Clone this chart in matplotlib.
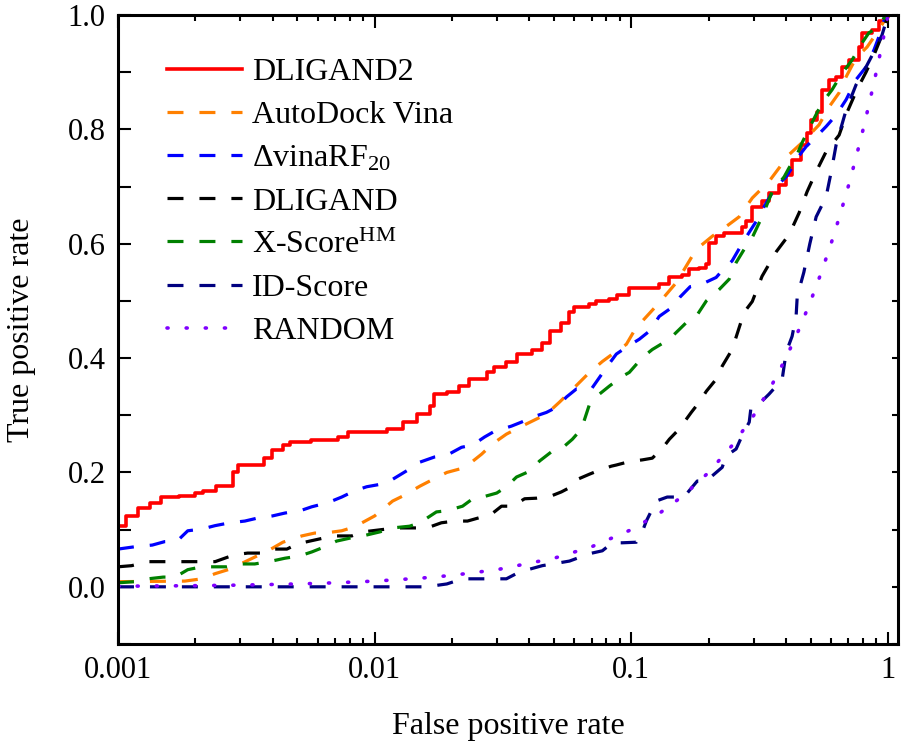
import matplotlib
matplotlib.use("Agg")
import matplotlib.pyplot as plt
from matplotlib.ticker import MultipleLocator, FixedLocator, FuncFormatter, LogLocator, NullFormatter

plt.rcParams['font.family'] = ['Liberation Serif', 'DejaVu Serif']
plt.rcParams['mathtext.fontset'] = 'custom'
plt.rcParams['mathtext.rm'] = 'Liberation Serif'
plt.rcParams['mathtext.it'] = 'Liberation Serif'

# ROC curves (false positive rate, true positive rate)
dligand2_fpr = [0.001, 0.00107, 0.0012, 0.00133, 0.00147, 0.00173, 0.002, 0.00214, 0.0024, 0.0028,
                0.00293, 0.0037, 0.00397, 0.00439, 0.00467, 0.00564, 0.00718, 0.00785, 0.0112, 0.0129,
                0.0146, 0.0164, 0.0171, 0.0191, 0.0214, 0.0234, 0.0273, 0.0293, 0.0326, 0.0357,
                0.0412, 0.0447, 0.048, 0.0534, 0.0574, 0.06, 0.0687, 0.0731, 0.0821, 0.0882,
                0.0982, 0.1285, 0.1406, 0.158, 0.168, 0.184, 0.196, 0.201, 0.214, 0.230,
                0.270, 0.280, 0.296, 0.323, 0.344, 0.377, 0.401, 0.423, 0.459, 0.484,
                0.501, 0.529, 0.553, 0.589, 0.628, 0.662, 0.705, 0.771, 0.792, 0.866,
                0.922, 0.982, 1.0]
dligand2_tpr = [0.106, 0.124, 0.138, 0.147, 0.157, 0.159, 0.164, 0.168, 0.176, 0.200,
                0.213, 0.225, 0.239, 0.248, 0.253, 0.257, 0.262, 0.270, 0.276, 0.288,
                0.302, 0.316, 0.337, 0.340, 0.351, 0.363, 0.375, 0.384, 0.394, 0.407,
                0.415, 0.427, 0.447, 0.462, 0.480, 0.489, 0.494, 0.500, 0.503, 0.511,
                0.523, 0.529, 0.541, 0.546, 0.555, 0.558, 0.564, 0.602, 0.613, 0.619,
                0.630, 0.639, 0.665, 0.674, 0.689, 0.703, 0.721, 0.747, 0.773, 0.794,
                0.817, 0.830, 0.869, 0.887, 0.892, 0.909, 0.921, 0.944, 0.969, 0.974,
                0.990, 0.997, 1.0]

vina_fpr = [0.001, 0.00182, 0.00212, 0.00239, 0.00273, 0.00341, 0.00384, 0.00439, 0.0052, 0.00584,
            0.00639, 0.00744, 0.00836, 0.01, 0.01175, 0.0129, 0.015, 0.0164, 0.0191, 0.0214,
            0.0234, 0.0261, 0.0288, 0.0326, 0.0367, 0.0412, 0.0467, 0.0525, 0.0574, 0.0617,
            0.0687, 0.0771, 0.0874, 0.0956, 0.104, 0.1285, 0.1497, 0.179, 0.2066, 0.234,
            0.263, 0.296, 0.344, 0.412, 0.463, 0.539, 0.589, 0.645, 0.687, 0.751,
            0.829, 0.922, 0.982, 1.0]
vina_tpr = [0.009, 0.010, 0.014, 0.023, 0.031, 0.052, 0.063, 0.078, 0.089, 0.094,
            0.094, 0.098, 0.105, 0.124, 0.150, 0.159, 0.176, 0.185, 0.200, 0.206,
            0.215, 0.232, 0.250, 0.267, 0.279, 0.290, 0.302, 0.323, 0.340, 0.354,
            0.375, 0.394, 0.412, 0.424, 0.452, 0.497, 0.532, 0.590, 0.613, 0.630,
            0.647, 0.680, 0.709, 0.756, 0.777, 0.808, 0.839, 0.864, 0.892, 0.925,
            0.944, 0.974, 0.995, 1.0]

vinarf_fpr = [0.001, 0.00116, 0.00136, 0.00152, 0.0017, 0.00187, 0.00212, 0.00239, 0.00273, 0.00312,
              0.00348, 0.004, 0.00447, 0.0052, 0.00569, 0.00656, 0.00744, 0.00836, 0.00931, 0.01074,
              0.01175, 0.01368, 0.015, 0.0171, 0.0191, 0.0218, 0.0241, 0.0268, 0.0293, 0.0341,
              0.0373, 0.042, 0.0467, 0.0511, 0.0559, 0.0611, 0.0699, 0.0751, 0.0807, 0.0874,
              0.0956, 0.1074, 0.1175, 0.1285, 0.1444, 0.155, 0.1696, 0.1855, 0.214, 0.226,
              0.247, 0.270, 0.288, 0.3065, 0.32, 0.344, 0.367, 0.401, 0.423, 0.4385,
              0.48, 0.525, 0.574, 0.628, 0.687, 0.751, 0.821, 0.882, 0.922, 0.964, 1.0]
vinarf_tpr = [0.066, 0.070, 0.073, 0.079, 0.080, 0.098, 0.101, 0.107, 0.112, 0.115,
              0.120, 0.124, 0.129, 0.134, 0.140, 0.147, 0.157, 0.168, 0.175, 0.180,
              0.188, 0.206, 0.218, 0.227, 0.230, 0.244, 0.248, 0.262, 0.272, 0.281,
              0.288, 0.298, 0.305, 0.314, 0.332, 0.346, 0.346, 0.366, 0.386, 0.407,
              0.419, 0.433, 0.447, 0.473, 0.489, 0.507, 0.525, 0.528, 0.541, 0.553,
              0.570, 0.600, 0.620, 0.639, 0.655, 0.680, 0.700, 0.717, 0.733, 0.747,
              0.770, 0.787, 0.805, 0.825, 0.852, 0.887, 0.909, 0.939, 0.962, 0.990, 1.0]

dligand_fpr = [0.001, 0.00113, 0.00131, 0.00239, 0.00268, 0.00285, 0.0032, 0.00363, 0.004, 0.00455,
               0.0050, 0.00559, 0.00628, 0.00697, 0.00814, 0.00898, 0.0111, 0.0125, 0.0147, 0.0167,
               0.0182, 0.0205, 0.0230, 0.0261, 0.0285, 0.0312, 0.0344, 0.0384, 0.0427, 0.0488,
               0.0534, 0.0589, 0.0617, 0.0687, 0.0751, 0.0836, 0.0874, 0.0982, 0.1104, 0.1207,
               0.132, 0.1406, 0.1537, 0.1712, 0.184, 0.196, 0.214, 0.226, 0.247, 0.275,
               0.296, 0.323, 0.367, 0.412, 0.4505, 0.484, 0.525, 0.574, 0.645, 0.693,
               0.758, 0.821, 0.882, 0.948, 1.0]
dligand_tpr = [0.035, 0.037, 0.044, 0.044, 0.052, 0.056, 0.059, 0.059, 0.066, 0.066,
               0.075, 0.080, 0.085, 0.089, 0.089, 0.096, 0.101, 0.103, 0.103, 0.106,
               0.112, 0.115, 0.115, 0.122, 0.127, 0.141, 0.141, 0.154, 0.155, 0.159,
               0.166, 0.176, 0.188, 0.197, 0.204, 0.211, 0.213, 0.219, 0.222, 0.225,
               0.242, 0.258, 0.276, 0.305, 0.323, 0.342, 0.363, 0.386, 0.415, 0.480,
               0.499, 0.543, 0.586, 0.616, 0.654, 0.691, 0.726, 0.761, 0.790, 0.830,
               0.870, 0.900, 0.930, 0.965, 1.0]

xscore_fpr = [0.001, 0.00116, 0.00131, 0.0015, 0.00167, 0.00187, 0.00212, 0.00266, 0.00304, 0.00341,
              0.00397, 0.00447, 0.0051, 0.00569, 0.00639, 0.00711, 0.00836, 0.00898, 0.01046, 0.01175,
              0.01368, 0.015, 0.0174, 0.0191, 0.022, 0.0241, 0.0263, 0.0299, 0.0326, 0.0357,
              0.0401, 0.0439, 0.0488, 0.0539, 0.0589, 0.0639, 0.0687, 0.0751, 0.0821, 0.0922,
              0.0982, 0.1104, 0.1207, 0.1406, 0.1637, 0.179, 0.196, 0.22, 0.2406, 0.256,
              0.275, 0.296, 0.323, 0.3538, 0.394, 0.412, 0.4385, 0.463, 0.506, 0.553,
              0.605, 0.662, 0.724, 0.792, 0.843, 0.922, 0.964, 1.0]
xscore_tpr = [0.007, 0.009, 0.014, 0.017, 0.017, 0.030, 0.035, 0.035, 0.040, 0.040,
              0.045, 0.050, 0.054, 0.061, 0.070, 0.080, 0.087, 0.089, 0.096, 0.103,
              0.106, 0.112, 0.131, 0.133, 0.141, 0.154, 0.157, 0.164, 0.175, 0.192,
              0.202, 0.220, 0.236, 0.243, 0.258, 0.276, 0.319, 0.337, 0.351, 0.368,
              0.375, 0.401, 0.415, 0.433, 0.462, 0.473, 0.500, 0.520, 0.538, 0.567,
              0.590, 0.611, 0.647, 0.691, 0.717, 0.733, 0.752, 0.777, 0.812, 0.846,
              0.869, 0.898, 0.921, 0.951, 0.969, 0.979, 0.995, 1.0]

idscore_fpr = [0.001, 0.0159, 0.0191, 0.022, 0.0326, 0.0367, 0.045, 0.0574, 0.0687, 0.0771,
               0.0843, 0.0922, 0.1046, 0.1094, 0.1144, 0.125, 0.138, 0.1606, 0.168, 0.1807,
               0.196, 0.2066, 0.226, 0.234, 0.256, 0.270, 0.288, 0.293, 0.32, 0.344,
               0.367, 0.387, 0.401, 0.423, 0.4385, 0.443, 0.47, 0.496, 0.525, 0.574,
               0.601, 0.628, 0.687, 0.751, 0.821, 0.89, 0.948, 1.0]
idscore_tpr = [0.0, 0.0, 0.005, 0.014, 0.014, 0.026, 0.037, 0.045, 0.058, 0.063,
               0.077, 0.077, 0.078, 0.092, 0.115, 0.150, 0.157, 0.157, 0.168, 0.185,
               0.185, 0.194, 0.209, 0.229, 0.241, 0.264, 0.288, 0.316, 0.323, 0.337,
               0.351, 0.363, 0.410, 0.438, 0.473, 0.508, 0.550, 0.600, 0.647, 0.682,
               0.726, 0.773, 0.834, 0.878, 0.909, 0.939, 0.965, 1.0]

random_fpr = [0.001, 0.002, 0.003, 0.005, 0.007, 0.01, 0.015, 0.02, 0.03, 0.05, 0.07, 0.1, 0.13,
              0.16, 0.2, 0.25, 0.3, 0.35, 0.4, 0.45, 0.5, 0.55, 0.6, 0.65, 0.7, 0.75, 0.8,
              0.85, 0.9, 0.95, 1.0]
random_tpr = [0.001, 0.002, 0.003, 0.005, 0.007, 0.01, 0.015, 0.02, 0.03, 0.05, 0.07, 0.1, 0.13,
              0.16, 0.2, 0.25, 0.3, 0.35, 0.4, 0.45, 0.5, 0.55, 0.6, 0.65, 0.7, 0.75, 0.8,
              0.85, 0.9, 0.95, 1.0]

x_ticks = [0.001, 0.01, 0.1, 1]

fig = plt.figure(figsize=(9.04, 7.48), dpi=100)
ax = fig.add_axes([118 / 904, 1 - 644 / 748, 780 / 904, 629 / 748])

lw = 2.3
dash = (5.0, 5.0)
ax.plot(dligand2_fpr, dligand2_tpr, color='#ff0000', lw=2.6, drawstyle='steps-post', label='DLIGAND2')
ax.plot(vina_fpr, vina_tpr, color='#ff8000', lw=lw, dashes=dash, label='AutoDock Vina')
ax.plot(vinarf_fpr, vinarf_tpr, color='#0000ff', lw=lw, dashes=dash, label=r'ΔvinaRF$_{\mathrm{20}}$')
ax.plot(dligand_fpr, dligand_tpr, color='black', lw=lw, dashes=dash, label='DLIGAND')
ax.plot(xscore_fpr, xscore_tpr, color='#008000', lw=lw, dashes=dash, label=r'X-Score$^{\mathrm{HM}}$')
ax.plot(idscore_fpr, idscore_tpr, color='#000080', lw=lw, dashes=dash, label='ID-Score')
ax.plot(random_fpr, random_tpr, color='#8000ff', lw=2.6, dashes=(0.3, 5.0),
        dash_capstyle='round', label='RANDOM')

ax.set_xscale('log')
ax.set_xlim(0.001, 1.094)
ax.set_ylim(-0.1, 1.0)

ax.xaxis.set_major_locator(FixedLocator(x_ticks))
ax.xaxis.set_major_formatter(FuncFormatter(lambda v, _: f'{v:g}'))
ax.xaxis.set_minor_locator(LogLocator(base=10, subs=range(2, 10), numticks=20))
ax.xaxis.set_minor_formatter(NullFormatter())
ax.yaxis.set_major_locator(MultipleLocator(0.2))
ax.yaxis.set_minor_locator(MultipleLocator(0.1))
ax.yaxis.set_major_formatter(FuncFormatter(lambda v, _: f'{v:.1f}'))

ax.tick_params(axis='x', which='both', direction='in', top=True, bottom=True, width=1.5, labelsize=22, pad=9)
ax.tick_params(axis='x', which='major', length=9)
ax.tick_params(axis='x', which='minor', length=4.5)
ax.tick_params(axis='y', which='both', direction='in', left=True, right=False, width=1.5,
               length=9, labelsize=22, pad=9)
for s in ax.spines.values():
    s.set_linewidth(2.2)

# right side ticks are short in the original
ax2 = ax.twinx()
ax2.set_ylim(-0.1, 1.0)
ax2.yaxis.set_major_locator(MultipleLocator(0.1))
ax2.tick_params(axis='y', direction='in', length=4.5, width=1.5, labelright=False)
for s in ax2.spines.values():
    s.set_visible(False)

ax.set_xlabel('False positive rate', fontsize=23, labelpad=19)
ax.set_ylabel('True positive rate', fontsize=23)
ax.yaxis.set_label_coords(-0.105, 0.5)

ax.legend(loc='upper left', bbox_to_anchor=(0.063, 0.932), frameon=False, fontsize=23,
          handlelength=2.35, handletextpad=0.3, labelspacing=0.43, borderpad=0, borderaxespad=0)

fig.savefig('out.png', dpi=100)
